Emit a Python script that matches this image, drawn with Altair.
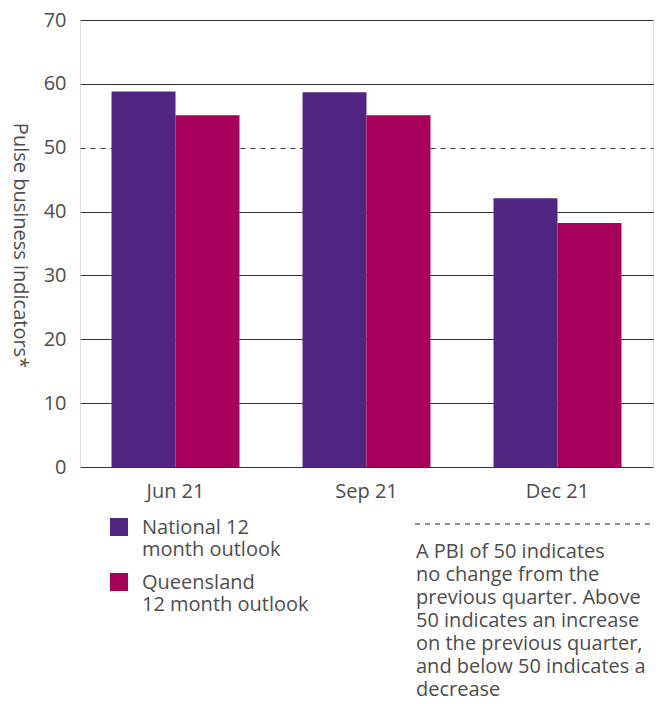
import altair as alt
import pandas as pd

# Pulse business indicators by quarter
quarters = ["Jun 21", "Sep 21", "Dec 21"]
national = [58.8, 58.7, 42.1]
queensland = [55.1, 55.1, 38.2]
series = ["National 12\nmonth outlook", "Queensland\n12 month outlook"]
colors = ["#512683", "#A6005A"]
y_ticks = [0, 10, 20, 30, 40, 50, 60, 70]

note = ("A PBI of 50 indicates\nno change from the\nprevious quarter. Above\n"
        "50 indicates an increase\non the previous quarter,\n"
        "and below 50 indicates a\ndecrease")

FONT = "Open Sans"
GREY = "#4d4d4d"
FS = 20
LINE = 23

# square swatch whose top edge sits level with the first label line
SWATCH = "M-1,0H1V2H-1Z"

df = pd.DataFrame({
    "quarter": quarters * 2,
    "series": [series[0]] * 3 + [series[1]] * 3,
    "value": national + queensland,
})

bars = alt.Chart(df).mark_bar().encode(
    x=alt.X(
        "quarter:N", sort=quarters,
        scale=alt.Scale(paddingInner=0.33, paddingOuter=0.165),
        axis=alt.Axis(title=None, labelAngle=0, ticks=False, domain=False,
                      labelPadding=14, labelFontSize=FS, labelColor=GREY,
                      labelFont=FONT),
    ),
    xOffset=alt.XOffset("series:N", sort=series),
    y=alt.Y(
        "value:Q",
        scale=alt.Scale(domain=[0, 70], nice=False),
        axis=alt.Axis(
            values=y_ticks, title="Pulse business indicators*",
            ticks=False, domain=False, labelPadding=14,
            labelFontSize=FS, labelColor=GREY, labelFont=FONT,
            titleFont=FONT, titleFontSize=FS, titleFontWeight="normal",
            titleColor=GREY, titleAngle=90, titleAlign="center",
            titleBaseline="middle", titleX=-61, titleY=225,
            grid=True, gridColor="#333333", gridWidth=1, gridOpacity=1,
            gridDash={"condition": {"test": "datum.value == 50", "value": [5, 5]},
                      "value": []},
        ),
    ),
    color=alt.Color(
        "series:N", sort=series,
        scale=alt.Scale(domain=series, range=colors),
        legend=alt.Legend(
            title=None, orient="none", legendX=29, legendY=488,
            symbolType=SWATCH, symbolSize=324, symbolStrokeWidth=0,
            symbolOpacity=1, labelFontSize=FS, labelColor=GREY, labelFont=FONT,
            labelExpr="split(datum.label, '\\n')", labelBaseline="top",
            labelOffset=13, rowPadding=3, labelLimit=300,
        ),
    ),
)

note_df = pd.DataFrame({"note": [note]})

note_rule = alt.Chart(note_df).mark_rule(
    color="#222222", strokeDash=[5, 5], strokeWidth=1
).encode(x=alt.value(335), x2=alt.value(573), y=alt.value(504))

note_text = alt.Chart(note_df).mark_text(
    align="left", baseline="top", lineBreak="\n", lineHeight=LINE,
    fontSize=FS, font=FONT, color=GREY,
).encode(x=alt.value(336), y=alt.value(522), text="note:N")

chart = alt.layer(bars, note_rule, note_text).properties(
    width=573, height=447,
    autosize=alt.AutoSizeParams(type="none"),
    padding={"left": 80, "top": 20, "right": 9, "bottom": 237},
).configure_view(stroke=None).configure(background="white")

chart.save("out.html", embed_options={"renderer": "svg", "actions": False})
